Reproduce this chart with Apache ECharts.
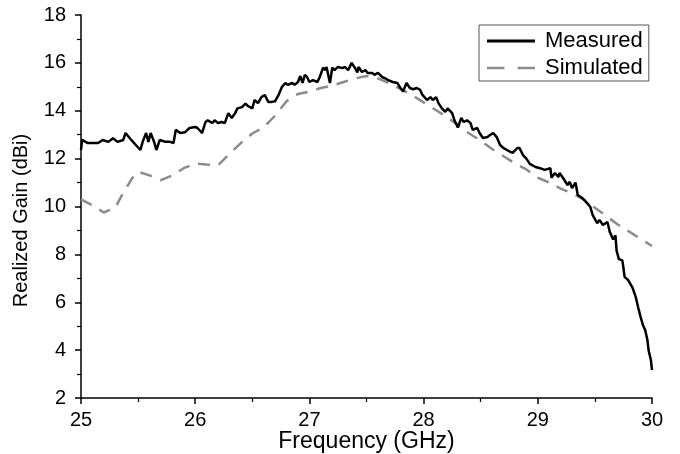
<!DOCTYPE html>
<html>
<head>
<meta charset="utf-8">
<script src="https://cdn.jsdelivr.net/npm/echarts@6/dist/echarts.min.js"></script>
<style>
html,body{margin:0;padding:0;background:#fff;}
#chart{width:680px;height:454px;}
</style>
</head>
<body>
<div id="chart"></div>
<script>
var measuredFreq = [
25.00,25.01,25.06,25.105,25.15,25.19,25.24,25.28,25.32,25.37,25.39,25.44,25.48,25.52,25.54,25.57,25.59,25.61,25.64,25.66,
25.69,25.74,25.78,25.81,25.83,25.87,25.91,25.95,26.00,26.02,26.06,26.09,26.11,26.15,26.17,26.20,26.23,26.26,26.29,26.32,
26.35,26.37,26.41,26.44,26.46,26.50,26.52,26.55,26.58,26.61,26.64,26.67,26.70,26.73,26.76,26.79,26.81,26.85,26.87,26.90,
26.92,26.94,26.96,26.98,27.00,27.03,27.07,27.09,27.12,27.14,27.15,27.18,27.20,27.22,27.25,27.29,27.31,27.34,27.37,27.40,
27.42,27.43,27.46,27.49,27.51,27.55,27.57,27.60,27.64,27.66,27.69,27.73,27.77,27.79,27.82,27.85,27.88,27.91,27.94,27.97,
27.99,28.03,28.06,28.08,28.11,28.13,28.16,28.19,28.21,28.25,28.27,28.30,28.33,28.35,28.38,28.41,28.43,28.47,28.49,28.52,
28.56,28.58,28.61,28.64,28.67,28.70,28.73,28.76,28.78,28.82,28.84,28.87,28.90,28.93,28.98,29.02,29.06,29.11,29.12,29.15,
29.18,29.19,29.22,29.26,29.28,29.30,29.33,29.35,29.39,29.43,29.46,29.48,29.52,29.54,29.57,29.61,29.63,29.66,29.68,29.69,
29.71,29.74,29.75,29.76,29.79,29.83,29.86,29.88,29.90,29.92,29.94,29.96,29.97,29.99,30.00
];
var measuredGain = [
12.36,12.78,12.65,12.65,12.65,12.78,12.70,12.85,12.70,12.78,13.07,12.78,12.57,12.36,12.70,13.07,12.70,13.07,12.70,12.36,
12.78,12.70,12.70,12.65,13.20,13.07,13.10,13.28,13.32,13.28,13.07,13.53,13.60,13.49,13.60,13.49,13.53,13.49,13.90,13.70,
13.90,14.10,14.15,14.30,14.20,14.10,14.45,14.32,14.57,14.66,14.37,14.37,14.40,14.66,15.00,15.16,15.08,15.16,15.08,15.20,
15.45,15.16,15.50,15.40,15.20,15.28,15.20,15.40,15.80,15.70,15.83,15.16,15.80,15.70,15.83,15.78,15.83,15.70,16.00,15.78,
15.60,15.83,15.62,15.70,15.58,15.58,15.50,15.58,15.40,15.36,15.28,15.20,15.16,15.00,14.80,15.16,14.95,14.90,14.95,14.87,
14.66,14.45,14.57,14.45,14.57,14.32,14.10,13.95,14.10,13.90,13.60,13.30,13.70,13.53,13.60,13.49,13.20,13.28,13.07,12.86,
12.90,12.98,13.07,12.90,12.57,12.44,12.36,12.28,12.24,12.44,12.44,12.15,12.00,11.78,11.65,11.60,11.53,11.60,11.20,11.40,
11.23,11.40,11.20,10.90,11.03,10.77,11.00,10.48,10.35,10.15,9.98,9.65,9.30,9.44,9.23,9.35,8.94,8.62,8.80,8.15,
7.80,7.75,7.43,7.06,6.93,6.60,6.18,5.76,5.39,5.05,4.84,4.42,4.00,3.59,3.17
];
var simFreq = [
25.0,25.1,25.2,25.3,25.35,25.45,25.5,25.6,25.7,25.8,25.9,26.0,26.1,26.2,26.3,26.4,26.5,26.6,26.7,26.8,
26.9,27.0,27.1,27.2,27.3,27.4,27.5,27.6,27.7,27.8,27.9,28.0,28.1,28.2,28.3,28.4,28.5,28.6,28.7,28.8,
28.9,29.0,29.1,29.2,29.3,29.4,29.5,29.6,29.7,29.8,29.9,30.0
];
var simGain = [
10.3,10.05,9.75,9.95,10.4,11.2,11.45,11.3,11.1,11.3,11.6,11.8,11.75,11.72,12.2,12.65,13.05,13.3,13.8,14.4,
14.7,14.8,14.95,15.05,15.2,15.35,15.45,15.35,15.15,14.9,14.65,14.35,14.05,13.75,13.4,13.05,12.75,12.4,12.1,11.8,
11.55,11.2,11.0,10.75,10.55,10.3,9.95,9.6,9.25,8.95,8.65,8.35
];
var xTicks = [25,26,27,28,29,30];
var yTicks = [2,4,6,8,10,12,14,16,18];

function zip(a,b){var r=[];for(var i=0;i<a.length;i++){r.push([a[i],b[i]]);}return r;}

var chart = echarts.init(document.getElementById('chart'), null, {renderer:'canvas'});
var font = 'Liberation Sans, Arial, sans-serif';
chart.setOption({
  animation:false,
  backgroundColor:'#fff',
  grid:{left:81,right:28,top:15,bottom:56,containLabel:false,outerBoundsMode:'none'},
  legend:{
    orient:'vertical',
    left:479, top:25,
    data:[
      {name:'Measured',icon:'path://M0,0h48v3h-48z',itemStyle:{color:'#000'}},
      {name:'Simulated',icon:'path://M0,0h17v2.5h-17z M30,0h17v2.5h-17z',itemStyle:{color:'#8c8c8c'}}
    ],
    itemWidth:48, itemHeight:20, itemGap:5,
    padding:[5,6,2,8],
    borderColor:'#555', borderWidth:1,
    textStyle:{fontFamily:font,fontSize:22,lineHeight:20,color:'#000',padding:[0,0,0,5]}
  },
  xAxis:{
    type:'value', min:xTicks[0], max:xTicks[xTicks.length-1], interval:1,
    name:'Frequency (GHz)', nameLocation:'middle', nameGap:32, nameMoveOverlap:false,
    nameTextStyle:{fontFamily:font,fontSize:23,color:'#000'},
    axisLine:{show:true,onZero:false,lineStyle:{color:'#000',width:1.5}},
    axisTick:{show:true,inside:false,length:6,lineStyle:{color:'#000',width:1.5}},
    minorTick:{show:true,splitNumber:2,length:4,lineStyle:{color:'#000',width:1.2}},
    axisLabel:{fontFamily:font,fontSize:20,color:'#000',margin:12},
    splitLine:{show:false}
  },
  yAxis:{
    type:'value', min:yTicks[0], max:yTicks[yTicks.length-1], interval:2,
    name:'Realized Gain (dBi)', nameLocation:'middle', nameGap:50, nameMoveOverlap:false,
    nameTextStyle:{fontFamily:font,fontSize:20,color:'#000',padding:[0,28,0,0]},
    axisLine:{show:true,onZero:false,lineStyle:{color:'#000',width:1.5}},
    axisTick:{show:true,inside:false,length:6,lineStyle:{color:'#000',width:1.5}},
    minorTick:{show:true,splitNumber:2,length:4,lineStyle:{color:'#000',width:1.2}},
    axisLabel:{fontFamily:font,fontSize:20,color:'#000',margin:15},
    splitLine:{show:false}
  },
  series:[
    {name:'Simulated',type:'line',data:zip(simFreq,simGain),showSymbol:false,symbol:'none',z:2,
     lineStyle:{color:'#8c8c8c',width:2.5,type:[12,9]},itemStyle:{color:'#8c8c8c'}},
    {name:'Measured',type:'line',data:zip(measuredFreq,measuredGain),showSymbol:false,symbol:'none',z:3,
     lineStyle:{color:'#000',width:2.5},itemStyle:{color:'#000'}}
  ]
});
</script>
</body>
</html>
